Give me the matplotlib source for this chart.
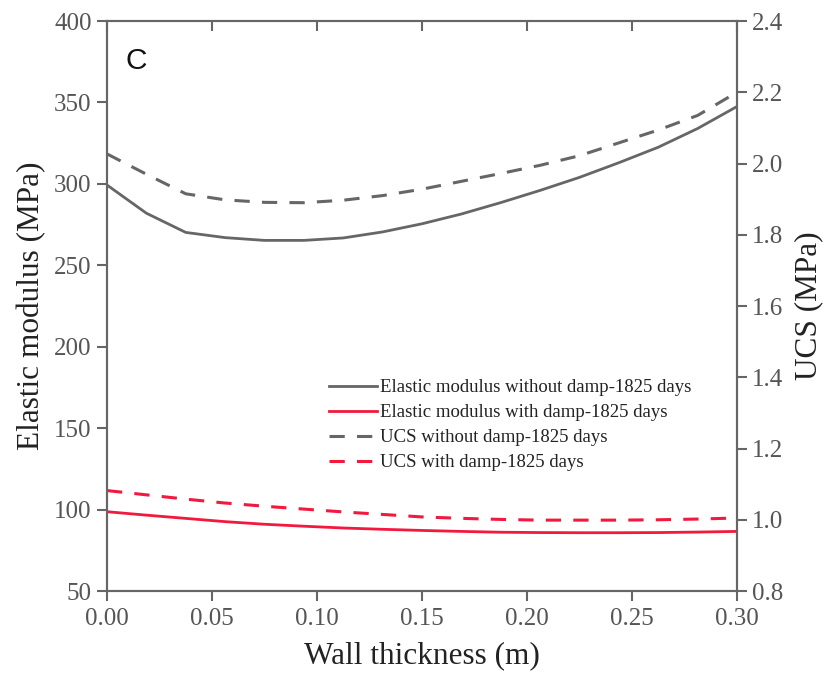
import numpy as np
import matplotlib.pyplot as plt

plt.rcParams['font.family'] = ['Liberation Serif', 'DejaVu Serif']

# wall thickness (m)
thickness = np.linspace(0, 0.3, 17)

# elastic modulus (MPa)
e_dry = [299.3, 282.0, 270.2, 267.0, 265.3, 265.3, 266.8, 270.5, 275.5,
         281.5, 288.5, 296.0, 304.0, 313.0, 322.5, 334.0, 347.5]
e_damp = [98.7, 96.6, 94.6, 92.6, 91.0, 89.8, 88.7, 87.9, 87.2,
          86.6, 86.1, 85.9, 85.8, 85.8, 85.9, 86.2, 86.6]

# UCS (MPa)
ucs_dry = [2.027, 1.970, 1.915, 1.898, 1.891, 1.890, 1.897, 1.910, 1.928,
           1.950, 1.972, 1.995, 2.022, 2.058, 2.094, 2.135, 2.200]
ucs_damp = [1.082, 1.070, 1.058, 1.047, 1.038, 1.030, 1.022, 1.015, 1.008,
            1.004, 1.001, 0.999, 0.999, 0.999, 1.000, 1.002, 1.005]

labels = ['Elastic modulus without damp-1825 days',
          'Elastic modulus with damp-1825 days',
          'UCS without damp-1825 days',
          'UCS with damp-1825 days']

GRAY = '#666666'
RED = '#F2183E'
TXT = '#555555'

fig = plt.figure(figsize=(8.32, 6.87), dpi=100)
ax = fig.add_axes([0.1286, 0.1397, 0.7572, 0.8297])
ax2 = ax.twinx()

l1, = ax.plot(thickness, e_dry, color=GRAY, lw=2)
l2, = ax.plot(thickness, e_damp, color=RED, lw=2)
l3, = ax2.plot(thickness, ucs_dry, color=GRAY, lw=2.2, dashes=(5, 4))
l4, = ax2.plot(thickness, ucs_damp, color=RED, lw=2.2, dashes=(5, 4))

ax.set_xlim(0, 0.3)
ax.set_ylim(50, 400)
ax2.set_ylim(0.8, 2.4)
ax.set_xticks(np.arange(0, 0.31, 0.05))
ax.set_xticklabels(['%.2f' % v for v in np.arange(0, 0.31, 0.05)])
ax.set_yticks(np.arange(50, 401, 50))
ax2.set_yticks(np.arange(0.8, 2.41, 0.2))
ax2.set_yticklabels(['%.1f' % v for v in np.arange(0.8, 2.41, 0.2)])

for a in (ax, ax2):
    for s in a.spines.values():
        s.set_color(GRAY)
        s.set_linewidth(1.5)
ax.tick_params(axis='x', direction='out', top=False, length=7, width=1.5,
               color=GRAY, labelsize=18, labelcolor=TXT, pad=5)
ax.tick_params(axis='y', direction='out', length=7, width=1.5,
               color=GRAY, labelsize=18, labelcolor=TXT, pad=4)
ax2.tick_params(axis='y', direction='out', length=7, width=1.5,
                color=GRAY, labelsize=18, labelcolor=TXT, pad=4)
# inward ticks on top spine
secx = ax.secondary_xaxis('top')
secx.set_xticks(np.arange(0, 0.31, 0.05))
secx.tick_params(direction='in', length=7, width=1.5, color=GRAY,
                 labeltop=False)
secx.spines['top'].set_visible(False)

ax.set_xlabel('Wall thickness (m)', fontsize=22.5, color='#222222', labelpad=8)
ax.set_ylabel('Elastic modulus (MPa)', fontsize=22.5, color='#222222', labelpad=6)
ax2.set_ylabel('UCS (MPa)', fontsize=22.5, color='#222222', labelpad=8)

ax.text(0.029, 0.929, 'C', transform=ax.transAxes, fontsize=21.5,
        family='Liberation Sans', va='center', ha='left', color='#111111')

leg = ax.legend([l1, l2, l3, l4], labels, loc='upper left',
                bbox_to_anchor=(0.352, 0.372), frameon=False, fontsize=13.5,
                handlelength=2.55, handletextpad=0.2, labelspacing=0.42,
                borderaxespad=0, borderpad=0)
for t in leg.get_texts():
    t.set_color('#222222')

fig.savefig('out.png', dpi=100)
